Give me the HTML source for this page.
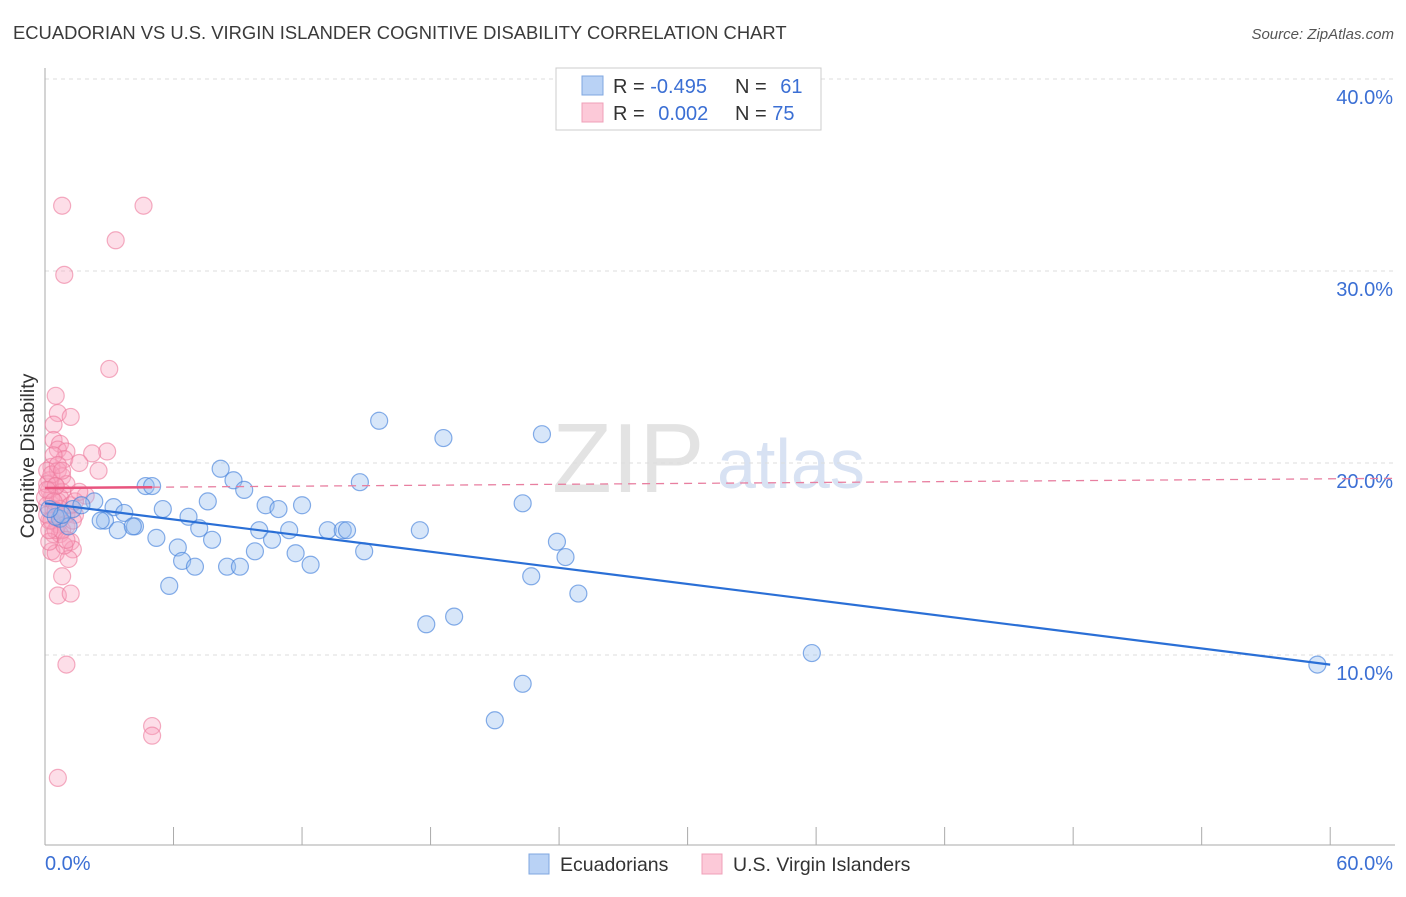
<!DOCTYPE html>
<html><head><meta charset="utf-8"><style>
body{margin:0;background:#fff;font-family:"Liberation Sans",sans-serif}
svg text{font-family:"Liberation Sans",sans-serif}
</style></head><body>
<svg id="chart" width="1406" height="892" viewBox="0 0 1406 892" xmlns="http://www.w3.org/2000/svg">
<text x="13" y="39" font-size="18.4" fill="#3a3a3a">ECUADORIAN VS U.S. VIRGIN ISLANDER COGNITIVE DISABILITY CORRELATION CHART</text>
<text x="1394" y="39" font-size="15" fill="#555" text-anchor="end" font-style="italic">Source: ZipAtlas.com</text>
<g>
<text x="552" y="492" font-size="98" fill="#ddd" font-family="Liberation Serif" opacity="0.8">ZIP</text>
<text x="717" y="488" font-size="70" fill="#c8d6ee" opacity="0.7">atlas</text>
</g>
<g id="grid"></g>
<g id="axes"></g>
<g id="marks"></g>
<text transform="translate(34,456) rotate(-90)" font-size="19.5" fill="#333" text-anchor="middle">Cognitive Disability</text>
<g>
<rect x="556" y="68" width="265" height="62" fill="#fff" stroke="#ccc"/>
<rect x="582" y="76" width="21" height="19" fill="#b9d2f5" stroke="#7fa7e0"/>
<rect x="582" y="103" width="21" height="19" fill="#fcc9d8" stroke="#efa0b8"/>
<text x="613" y="93" font-size="20" fill="#333">R = <tspan fill="#3b6fd4">-0.495</tspan></text>
<text x="735" y="93" font-size="20" fill="#333">N = <tspan fill="#3b6fd4" dx="8">61</tspan></text>
<text x="613" y="120" font-size="20" fill="#333">R = <tspan fill="#3b6fd4" dx="8">0.002</tspan></text>
<text x="735" y="120" font-size="20" fill="#333">N = <tspan fill="#3b6fd4">75</tspan></text>
</g>
<g>
<rect x="529" y="854" width="20" height="20" fill="#b9d2f5" stroke="#7fa7e0"/>
<text x="560" y="871" font-size="19.5" fill="#333">Ecuadorians</text>
<rect x="702" y="854" width="20" height="20" fill="#fcc9d8" stroke="#efa0b8"/>
<text x="733" y="871" font-size="19.5" fill="#333">U.S. Virgin Islanders</text>
</g>
</svg>
<script>
const blueX=[15.6,23.2,18.6,8.2,8.8,14.7,4.7,5.0,9.3,2.3,7.6,22.3,3.2,5.5,12.0,10.3,10.9,6.7,3.7,1.3,1.7,2.8,4.2,2.6,3.4,4.1,0.7,1.1,7.2,10.0,11.4,13.2,13.9,14.1,17.5,5.2,7.8,10.6,23.9,6.2,9.8,11.7,14.9,24.3,6.4,7.0,8.5,9.1,12.4,22.7,5.8,24.9,19.1,17.8,35.8,22.3,21.0,59.4,0.5,0.8,0.2];
const blueY=[22.2,21.5,21.3,19.7,19.1,19.0,18.8,18.8,18.6,18.0,18.0,17.9,17.7,17.6,17.8,17.8,17.6,17.2,17.4,17.6,17.8,17.0,16.7,17.0,16.5,16.7,17.1,16.7,16.6,16.5,16.5,16.5,16.5,16.5,16.5,16.1,16.0,16.0,15.9,15.6,15.4,15.3,15.4,15.1,14.9,14.6,14.6,14.6,14.7,14.1,13.6,13.2,12.0,11.6,10.1,8.5,6.6,9.5,17.2,17.3,17.6];
const pinkX=[0.8,4.6,3.3,0.9,3.0,0.5,0.6,1.2,0.4,0.4,0.7,0.6,2.9,2.2,1.0,0.9,1.6,2.5,0.3,0.6,0.8,0.2,0.5,0.8,1.9,0.3,0.6,0.1,0.4,1.0,1.4,0.2,0.6,1.0,0.4,0.7,1.2,1.3,0.3,0.5,1.1,0.8,0.6,1.2,1.0,5.0,5.0,0.6,0.1,0.2,0.4,0.7,0.1,0.5,0.9,0.2,0.0,0.1,0.3,0.6,1.0,1.2,1.4,1.6,0.7,0.3,0.8,0.5,0.1,0.8,0.4,0.2,1.0,1.3,0.5];
const pinkY=[33.4,33.4,31.6,29.8,24.9,23.5,22.6,22.4,22.0,21.2,21.0,20.7,20.6,20.5,20.6,20.2,20.0,19.6,19.8,19.6,19.3,19.1,18.8,18.5,18.3,18.2,18.0,17.8,17.6,17.3,17.3,17.0,16.8,16.7,16.3,16.3,15.9,15.5,15.4,15.3,15.0,14.1,13.1,13.2,9.5,6.3,5.8,3.6,19.6,18.6,20.4,18.2,17.3,16.5,15.7,15.9,18.2,18.9,19.4,19.9,18.9,17.8,18.0,18.5,17.6,17.0,16.5,18.8,18.6,19.6,18.0,16.5,16.0,17.0,17.5];
const yTicks=[10,20,30,40];
const blueTrend=[17.9,9.5];
const pinkTrend=[18.7,19.2];
const X=v=>45+v*21.42, Y=v=>847-v*19.2;
const NS="http://www.w3.org/2000/svg";
function mk(tag,attrs,parent){const e=document.createElementNS(NS,tag);for(const k in attrs)e.setAttribute(k,attrs[k]);document.getElementById(parent).appendChild(e);return e;}
yTicks.forEach(t=>{
 const l=mk('line',{x1:45,x2:1395,y1:Y(t),y2:Y(t),stroke:'#ddd','stroke-dasharray':'4,4'},'grid');
 
 
 const tx=mk('text',{x:1393,y:Y(t)+25,'font-size':20,fill:'#3b6fd4','text-anchor':'end'},'axes');
 tx.textContent=t.toFixed(1)+'%';
 
 
});
const ax=mk('line',{x1:45,x2:1395,y1:845,y2:845,stroke:'#aaa'},'axes');


const ay=mk('line',{x1:45,x2:45,y1:68,y2:845,stroke:'#aaa'},'axes');


for(let i=1;i<=10;i++){const t=i*6;
 const k=mk('line',{x1:X(t),x2:X(t),y1:827,y2:845,stroke:'#aaa'},'axes');
 
 }
const xl=mk('text',{x:45,y:870,'font-size':20,fill:'#3b6fd4'},'axes');xl.textContent='0.0%';


const xr=mk('text',{x:1393,y:870,'font-size':20,fill:'#3b6fd4','text-anchor':'end'},'axes');xr.textContent='60.0%';


pinkX.forEach((v,i)=>{const c=mk('circle',{cx:X(v),cy:Y(pinkY[i]),r:8.5,fill:'rgba(249,160,188,0.35)',stroke:'rgba(236,120,155,0.6)','stroke-width':1.2},'marks');
 
 });
blueX.forEach((v,i)=>{const c=mk('circle',{cx:X(v),cy:Y(blueY[i]),r:8.5,fill:'rgba(150,190,240,0.38)',stroke:'rgba(70,130,220,0.65)','stroke-width':1.2},'marks');
 
 });
const pt=v=>pinkTrend[0]+(pinkTrend[1]-pinkTrend[0])*v/63;
const pd=mk('line',{x1:X(5),y1:Y(pt(5)),x2:X(63),y2:Y(pt(63)),stroke:'#e87fa0','stroke-width':1.3,'stroke-dasharray':'8,6'},'marks');


const ps=mk('line',{x1:X(0),y1:Y(pt(0)),x2:X(5),y2:Y(pt(5)),stroke:'#e8547e','stroke-width':2.5},'marks');


const bt=mk('line',{x1:X(0),y1:Y(blueTrend[0]),x2:X(60),y2:Y(blueTrend[1]),stroke:'#2a6fd6','stroke-width':2.2},'marks');


</script>
</body></html>
